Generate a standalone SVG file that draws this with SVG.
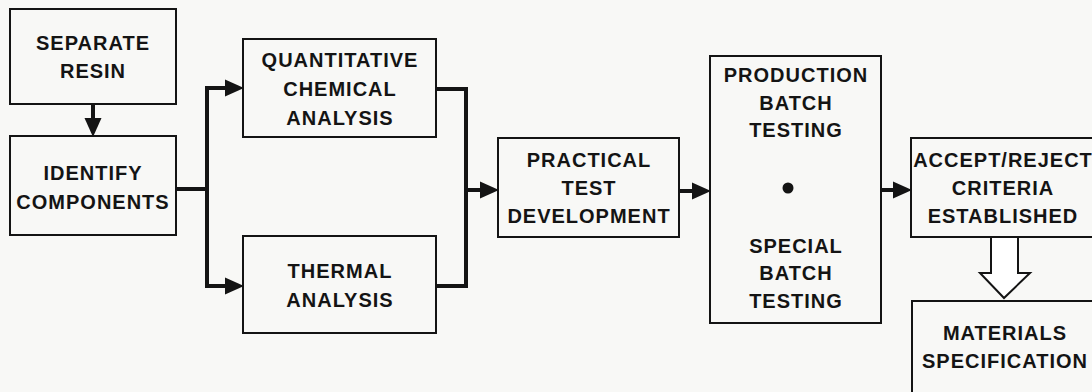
<svg xmlns="http://www.w3.org/2000/svg" width="1092" height="392" viewBox="0 0 1092 392">
<style>
.box{fill:none;stroke:#141414;stroke-width:2}
.t{font-family:"Liberation Sans",Arial,sans-serif;font-weight:bold;font-size:20px;letter-spacing:1px;fill:#141414;text-anchor:middle}
.c{fill:none;stroke:#141414;stroke-width:4;stroke-linejoin:miter}
</style>
<defs>
<marker id="ah" markerUnits="userSpaceOnUse" markerWidth="20" markerHeight="18" refX="0" refY="8.5" orient="auto" overflow="visible">
<path d="M0,0 L19,8.5 L0,17 Z" fill="#141414"/>
</marker>
</defs>
<rect width="1092" height="392" fill="#f8f8f6"/>
<g id="separate-resin">
<rect class="box" x="10" y="9" width="166" height="95"/>
<text class="t" x="93" y="50">SEPARATE</text>
<text class="t" x="93" y="78">RESIN</text>
</g>
<g id="identify-components">
<rect class="box" x="10" y="136" width="166" height="99"/>
<text class="t" x="93" y="180">IDENTIFY</text>
<text class="t" x="93" y="209">COMPONENTS</text>
</g>
<g id="quantitative-chemical-analysis">
<rect class="box" x="243" y="39" width="193" height="98"/>
<text class="t" x="340" y="67">QUANTITATIVE</text>
<text class="t" x="340" y="96">CHEMICAL</text>
<text class="t" x="340" y="125">ANALYSIS</text>
</g>
<g id="thermal-analysis">
<rect class="box" x="243" y="236" width="193" height="97"/>
<text class="t" x="340" y="278">THERMAL</text>
<text class="t" x="340" y="307">ANALYSIS</text>
</g>
<g id="practical-test-development">
<rect class="box" x="498" y="138" width="181" height="99"/>
<text class="t" x="589" y="167">PRACTICAL</text>
<text class="t" x="589" y="195">TEST</text>
<text class="t" x="589" y="223">DEVELOPMENT</text>
</g>
<g id="batch-testing">
<rect class="box" x="710" y="56" width="171" height="267"/>
<text class="t" x="796" y="82">PRODUCTION</text>
<text class="t" x="796" y="110">BATCH</text>
<text class="t" x="796" y="137">TESTING</text>
<circle cx="788" cy="188" r="5.5" fill="#141414"/>
<text class="t" x="796" y="253">SPECIAL</text>
<text class="t" x="796" y="280">BATCH</text>
<text class="t" x="796" y="308">TESTING</text>
</g>
<g id="accept-reject-criteria">
<rect class="box" x="911" y="138" width="190" height="99"/>
<text class="t" x="1003" y="167">ACCEPT/REJECT</text>
<text class="t" x="1003" y="195">CRITERIA</text>
<text class="t" x="1003" y="223">ESTABLISHED</text>
</g>
<g id="materials-specification">
<rect class="box" x="912" y="301" width="190" height="110"/>
<text class="t" x="1005" y="340">MATERIALS</text>
<text class="t" x="1005" y="368">SPECIFICATION</text>
</g>
<g id="connectors">
<path class="c" d="M93,104 V118" marker-end="url(#ah)"/>
<path class="c" d="M176,189 H207"/>
<path class="c" d="M207,88 V286"/>
<path class="c" d="M205,88 H225" marker-end="url(#ah)"/>
<path class="c" d="M205,286 H225" marker-end="url(#ah)"/>
<path class="c" d="M436,89 H466 V286 H436"/>
<path class="c" d="M466,190 H480" marker-end="url(#ah)"/>
<path class="c" d="M679,191 H692" marker-end="url(#ah)"/>
<path class="c" d="M881,190 H893" marker-end="url(#ah)"/>
<polygon points="991,237 991,273 980,273 1004,298 1030,273 1018,273 1018,237" fill="#ffffff" stroke="#141414" stroke-width="2" stroke-linejoin="miter"/>
</g>
</svg>
